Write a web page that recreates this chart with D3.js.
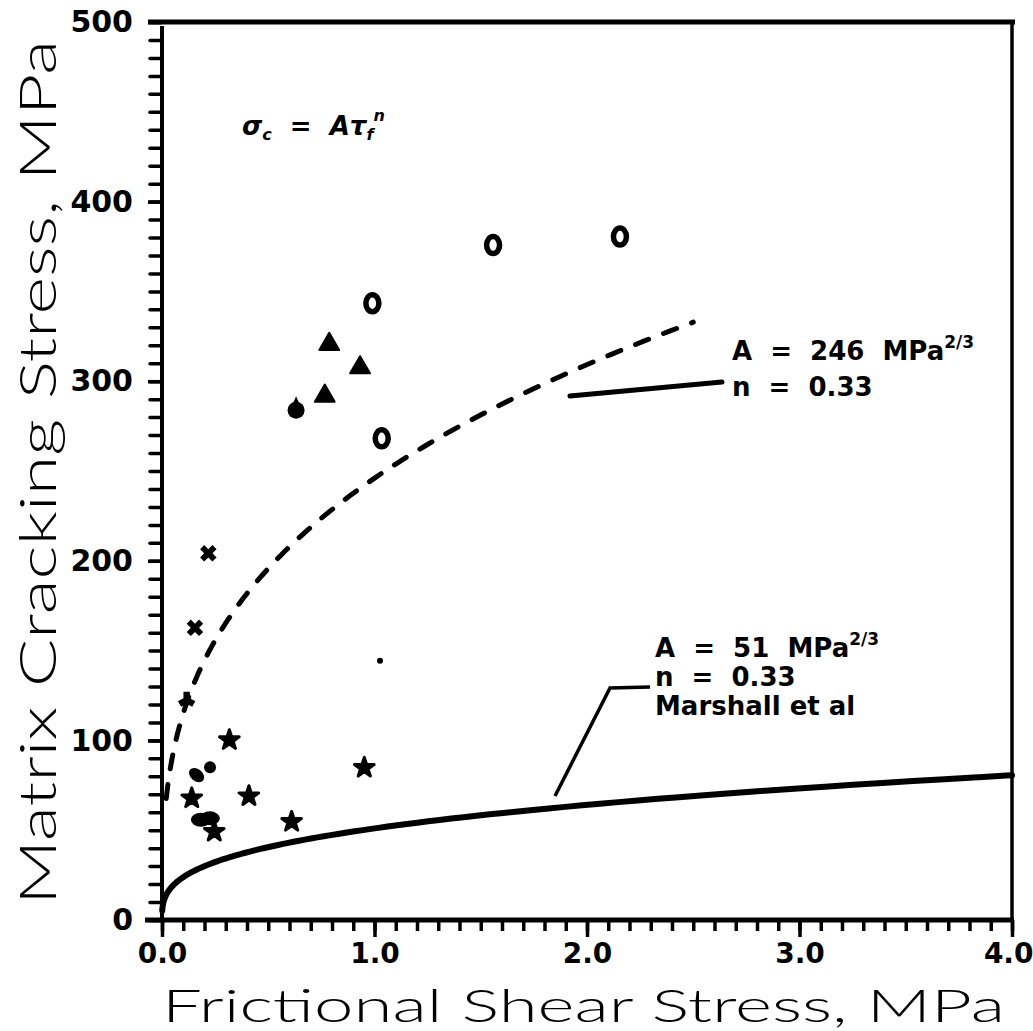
<!DOCTYPE html>
<html>
<head>
<meta charset="utf-8">
<script src="https://cdn.jsdelivr.net/npm/d3@7"></script>
<style>
  html, body { margin: 0; padding: 0; background: #fff; }
  svg { display: block; }
  .tick text { font-family: "DejaVu Sans", sans-serif; font-weight: bold; }
</style>
</head>
<body>
<svg id="chart" width="1033" height="1031"></svg>
<script>
// Axis definitions
const xDomain = [0, 4];
const yDomain = [0, 500];
const xTickValues = [0, 1, 2, 3, 4];
const xTickLabels = ["0.0", "1.0", "2.0", "3.0", "4.0"];
const yTickValues = [0, 100, 200, 300, 400, 500];
const yTickLabels = ["0", "100", "200", "300", "400", "500"];
const xTitle = "Frictional Shear Stress, MPa";
const yTitle = "Matrix Cracking Stress, MPa";

// Measured data, grouped by marker symbol: [shear stress MPa, cracking stress MPa]
const openCircles = [[0.99, 343.4], [1.034, 268.2], [1.558, 375.8], [2.155, 380.5]];
const triangles = [[0.787, 321.1], [0.932, 308.1], [0.766, 292.3]];
const dropMarks = [[0.631, 284.9]];
const crosses = [[0.218, 204.2], [0.155, 162.7]];
const wyeMarks = [[0.116, 122.5]];
const stars = [[0.317, 100.2], [0.14, 67.8], [0.409, 69.0], [0.952, 84.8], [0.61, 54.7], [0.246, 49.2]];
const filledDots = [[0.183, 55.8], [0.225, 56.6]];
const roundDots = [[0.226, 85.0]];
const ellipseMarks = [[0.163, 80.7]];
const smallDots = [[1.026, 144.4]];

// Power-law fits  sigma = A * tau^n
const fitA = [246, 51];
const fitN = [0.33, 0.33];
const fitRange = [[0.02, 2.5], [0.001, 4.0]];
const fitLabels = [
  ["A = 246 MPa", "n = 0.33"],
  ["A = 51 MPa", "n = 0.33", "Marshall et al"]
];

const svg = d3.select("#chart");
const x = d3.scaleLinear().domain(xDomain).range([162, 1012]);
const y = d3.scaleLinear().domain(yDomain).range([920, 22]);

// Frame: top and right borders
svg.append("line").attr("x1", 148).attr("x2", 1015).attr("y1", y(500)).attr("y2", y(500))
  .attr("stroke", "#000").attr("stroke-width", 5);
svg.append("line").attr("x1", x(4)).attr("x2", x(4)).attr("y1", y(500)).attr("y2", y(0))
  .attr("stroke", "#000").attr("stroke-width", 3.5);

// Minor tick marks
const xMinor = d3.range(0, 41).map(i => i / 10);
const yMinor = d3.range(0, 51).map(i => i * 10);

const gx = svg.append("g").attr("transform", `translate(0,${y(0)})`)
  .call(d3.axisBottom(x).tickValues(xMinor).tickSize(11).tickFormat(""));
gx.select(".domain").attr("stroke-width", 5).attr("d", `M145,0H${x(4) + 2}`);
gx.selectAll(".tick line").attr("stroke-width", 3.5);

const gxMajor = svg.append("g").attr("transform", `translate(0,${y(0)})`)
  .call(d3.axisBottom(x).tickValues(xTickValues).tickSize(17)
    .tickFormat((d, i) => xTickLabels[i]).tickPadding(6));
gxMajor.select(".domain").remove();
gxMajor.selectAll(".tick line").attr("stroke-width", 3.5);
gxMajor.selectAll(".tick text").attr("font-size", 28).attr("fill", "#000");
// the last label sits against the right edge of the page
gxMajor.selectAll(".tick text").filter((d, i) => i === xTickValues.length - 1)
  .attr("text-anchor", "end").attr("x", 21);

const gy = svg.append("g").attr("transform", `translate(${x(0)},0)`)
  .call(d3.axisLeft(y).tickValues(yMinor).tickSize(12).tickFormat(""));
gy.select(".domain").attr("stroke-width", 4).attr("d", `M0,${y(0) + 2}V${y(500) + 4}`);
gy.selectAll(".tick line").attr("stroke-width", 3.5).attr("stroke-linecap", "round");

const gyMajor = svg.append("g").attr("transform", `translate(${x(0)},0)`)
  .call(d3.axisLeft(y).tickValues(yTickValues).tickSize(14)
    .tickFormat((d, i) => yTickLabels[i]).tickPadding(15));
gyMajor.select(".domain").remove();
gyMajor.selectAll(".tick line").attr("stroke-width", 3.5);
gyMajor.selectAll(".tick text").attr("font-size", 30).attr("fill", "#000");

// Fitted curves
const line = d3.line().x(d => x(d[0])).y(d => y(d[1])).curve(d3.curveBasis);
fitA.forEach((A, k) => {
  const [t0, t1] = fitRange[k];
  const pts = d3.range(0, 201).map(i => {
    const t = t0 * Math.pow(t1 / t0, i / 200);
    return [t, A * Math.pow(t, fitN[k])];
  });
  const p = svg.append("path").attr("d", line(pts)).attr("fill", "none")
    .attr("stroke", "#000").attr("stroke-linecap", "round");
  if (k === 0) p.attr("stroke-width", 5).attr("stroke-dasharray", "14,16");
  else p.attr("stroke-width", 6);
});

// Markers
const g = svg.append("g");
g.selectAll(".oc").data(openCircles).join("ellipse")
  .attr("cx", d => x(d[0])).attr("cy", d => y(d[1])).attr("rx", 6.5).attr("ry", 8.5)
  .attr("fill", "none").attr("stroke", "#000").attr("stroke-width", 5.5);
g.selectAll(".tri").data(triangles).join("path")
  .attr("transform", d => `translate(${x(d[0])},${y(d[1]) + 1})`)
  .attr("d", d3.symbol(d3.symbolTriangle, 170)).attr("fill", "#000")
  .attr("stroke", "#000").attr("stroke-width", 2).attr("stroke-linejoin", "round");
g.selectAll(".drop").data(dropMarks).join("g")
  .attr("transform", d => `translate(${x(d[0])},${y(d[1])})`)
  .call(s => {
    s.append("circle").attr("r", 8.5).attr("cy", 2).attr("fill", "#000");
    s.append("path").attr("d", "M-3.5,-4L0,-12L3.5,-4Z").attr("fill", "#000");
  });
g.selectAll(".cross").data(crosses).join("path")
  .attr("transform", d => `translate(${x(d[0])},${y(d[1])}) rotate(45)`)
  .attr("d", d3.symbol(d3.symbolCross, 170)).attr("fill", "#000");
g.selectAll(".wye").data(wyeMarks).join("path")
  .attr("transform", d => `translate(${x(d[0])},${y(d[1])}) rotate(180)`)
  .attr("d", d3.symbol(d3.symbolWye, 140)).attr("fill", "#000");
g.selectAll(".star").data(stars).join("path")
  .attr("transform", d => `translate(${x(d[0])},${y(d[1])})`)
  .attr("d", d3.symbol(d3.symbolStar, 120)).attr("fill", "#000")
  .attr("stroke", "#000").attr("stroke-width", 3).attr("stroke-linejoin", "round");
g.selectAll(".fd").data(filledDots).join("ellipse")
  .attr("cx", d => x(d[0])).attr("cy", d => y(d[1])).attr("rx", 10).attr("ry", 7).attr("fill", "#000");
g.selectAll(".rd").data(roundDots).join("circle")
  .attr("cx", d => x(d[0])).attr("cy", d => y(d[1])).attr("r", 6).attr("fill", "#000");
g.selectAll(".el").data(ellipseMarks).join("ellipse")
  .attr("transform", d => `translate(${x(d[0])},${y(d[1])}) rotate(40)`)
  .attr("rx", 8.5).attr("ry", 6).attr("fill", "#000");
g.selectAll(".sd").data(smallDots).join("circle")
  .attr("cx", d => x(d[0])).attr("cy", d => y(d[1])).attr("r", 3).attr("fill", "#000");

// Annotation text
const labelFont = "'DejaVu Sans', sans-serif";
function fitText(lines, x0, y0, dy, sup) {
  const t = svg.append("g").attr("font-family", labelFont).attr("font-weight", "bold")
    .attr("font-size", 26).attr("fill", "#000");
  lines.forEach((s, i) => {
    const tx = t.append("text").attr("x", x0).attr("y", y0 + i * dy)
      .attr("xml:space", "preserve").text(s.replace(/ = /, "  =  ").replace(/ MPa/, "  MPa"));
    if (i === 0 && sup) {
      tx.append("tspan").attr("dy", -12).attr("font-size", 17).text("2/3");
    }
  });
}
fitText(fitLabels[0], 732, 360, 36, true);
fitText(fitLabels[1], 655, 657, 29, true);

// Leader lines from labels to curves
svg.append("path").attr("d", "M570,396L722,382").attr("stroke", "#000")
  .attr("stroke-width", 5).attr("fill", "none").attr("stroke-linecap", "round");
svg.append("path").attr("d", "M555,796L610,688L650,687").attr("stroke", "#000")
  .attr("stroke-width", 3.5).attr("fill", "none");

// Fitting equation
const eq = svg.append("text").attr("x", 242).attr("y", 135)
  .attr("font-family", labelFont).attr("font-weight", "bold").attr("font-size", 26)
  .attr("font-style", "italic").attr("xml:space", "preserve");
eq.append("tspan").text("σ");
eq.append("tspan").attr("dy", 5).attr("font-size", 16).text("c");
eq.append("tspan").attr("dy", -5).text("  =  Aτ");
eq.append("tspan").attr("dy", 5).attr("font-size", 16).text("f");
eq.append("tspan").attr("dy", -19).attr("font-size", 16).text("n");

// Axis titles
svg.append("text").attr("x", 162).attr("y", 1022)
  .attr("font-family", "Lato, 'Open Sans', sans-serif").attr("font-weight", 300)
  .attr("font-size", 46).attr("textLength", 843).attr("lengthAdjust", "spacingAndGlyphs")
  .text(xTitle);
svg.append("text").attr("transform", "translate(56,905) rotate(-90)")
  .attr("font-family", "Lato, 'Open Sans', sans-serif").attr("font-weight", 300)
  .attr("font-size", 52).attr("textLength", 865).attr("lengthAdjust", "spacingAndGlyphs")
  .text(yTitle);
</script>
</body>
</html>
